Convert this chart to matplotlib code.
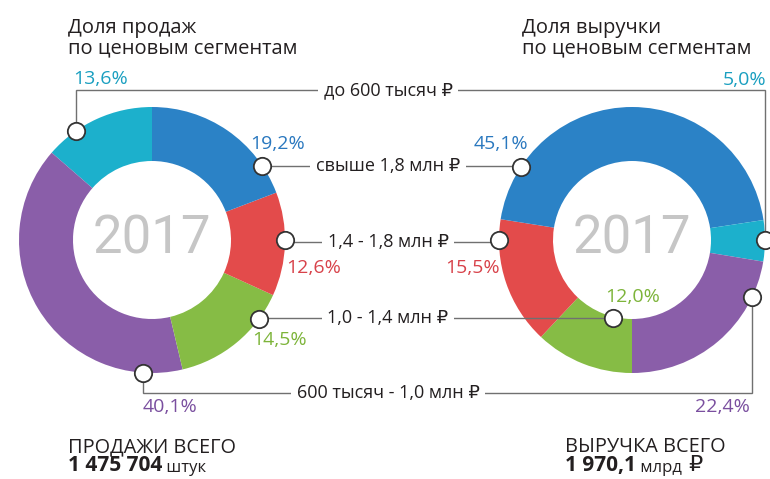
import numpy as np
import matplotlib
matplotlib.use("Agg")
import matplotlib.pyplot as plt

plt.rcParams['font.family'] = ['Open Sans', 'DejaVu Sans']

# price segments (order used for the rows in the middle)
segments = ["до 600 тысяч ₽", "600 тысяч - 1,0 млн ₽", "1,0 - 1,4 млн ₽",
            "1,4 - 1,8 млн ₽", "свыше 1,8 млн ₽"]
sales_share = [13.6, 40.1, 14.5, 12.6, 19.2]
revenue_share = [5.0, 22.4, 12.0, 15.5, 45.1]
sales_labels = ["13,6%", "40,1%", "14,5%", "12,6%", "19,2%"]
revenue_labels = ["5,0%", "22,4%", "12,0%", "15,5%", "45,1%"]
year = "2017"
sales_total = "1 475 704"
revenue_total = "1 970,1"

COLORS = ["#1cb0cc", "#8a5ea9", "#86bc45", "#e34b4b", "#2b82c6"]
TXT_COLORS = ["#1a9fc0", "#7a4f9f", "#7db43a", "#d8424a", "#2a78bf"]
DARK = "#231f20"

W, H = 770, 479
def Y(y):  # picture rows measured from the top
    return H - y

fig = plt.figure(figsize=(W / 100, H / 100), dpi=100)
ax = fig.add_axes([0, 0, 1, 1])

R, RING = 133, 54
CL = (152, Y(240))
CR = (632, Y(240))

# left: counter-clockwise from 12 o'clock; right: clockwise from 6 o'clock
ax.pie(sales_share, colors=COLORS, startangle=90, counterclock=True,
       radius=R, center=CL, wedgeprops=dict(width=RING, edgecolor="none"))
r_order = [2, 3, 4, 0, 1]
ax.pie([revenue_share[i] for i in r_order], colors=[COLORS[i] for i in r_order],
       startangle=-90, counterclock=False, radius=R, center=CR,
       wedgeprops=dict(width=RING, edgecolor="none"))

for c in (CL, CR):
    ax.text(c[0], c[1] + 1, year, ha="center", va="center", fontsize=38,
            color="#c6c6c6", family=["Roboto", "DejaVu Sans"])

# annotation anchors: (angle deg, radius) on each ring; row heights
ROW_Y = [90, 393, 318, 242, 166]
L_ANCH = [(125, R), (266, R), (-36.6, R), (0, R), (34, R)]
R_ANCH = [(0, R), (-25.4, R), (256, R - RING + 1), (180, R), (146.5, R)]

def pt(c, a, r):
    return c[0] + r * np.cos(np.radians(a)), c[1] + r * np.sin(np.radians(a))

for i, seg in enumerate(segments):
    row = Y(ROW_Y[i])
    xl, yl = pt(CL, *L_ANCH[i])
    xr, yr = pt(CR, *R_ANCH[i])
    ax.plot([xl, xl, xr, xr], [yl, row, row, yr], color="#707070", lw=1.0,
            zorder=3, solid_joinstyle="miter")
    ax.plot([xl, xr], [yl, yr], "o", ms=12.5, mfc="white", mec="#333333",
            mew=1.3, zorder=5, linestyle="none")
    ax.text(388, row, seg, ha="center", va="center", fontsize=13, color=DARK,
            zorder=4, bbox=dict(fc="white", ec="none", pad=4))

# percentage labels (x, y, ha)
L_POS = [(73, 79, "left"), (143, 407, "left"), (252, 340, "left"),
         (286, 268, "left"), (250, 144, "left")]
R_POS = [(766, 80, "right"), (750, 407, "right"), (605, 297, "left"),
         (500, 268, "right"), (528, 144, "right")]
for i in range(len(segments)):
    for pos, lab in ((L_POS[i], sales_labels[i]), (R_POS[i], revenue_labels[i])):
        ax.text(pos[0], Y(pos[1]), lab, ha=pos[2], va="center", fontsize=14,
                color=TXT_COLORS[i])

# titles
ax.text(68, Y(33), "Доля продаж", fontsize=14.5, color=DARK, va="baseline")
ax.text(68, Y(53), "по ценовым сегментам", fontsize=14.5, color=DARK, va="baseline")
ax.text(522, Y(33), "Доля выручки", fontsize=14.5, color=DARK, va="baseline")
ax.text(522, Y(53), "по ценовым сегментам", fontsize=14.5, color=DARK, va="baseline")

# totals
ax.text(68, Y(452), "ПРОДАЖИ ВСЕГО", fontsize=14.3, color=DARK, va="baseline")
t = ax.text(68, Y(471), sales_total, fontsize=15, fontweight="bold",
            color=DARK, va="baseline")
ax.annotate(" штук", xycoords=t, xy=(1, 0), va="bottom", fontsize=12,
            color=DARK)
ax.text(565, Y(452), "ВЫРУЧКА ВСЕГО", fontsize=14.3, color=DARK, va="baseline")
t = ax.text(565, Y(471), revenue_total, fontsize=15, fontweight="bold",
            color=DARK, va="baseline")
m = ax.annotate(" млрд", xycoords=t, xy=(1, 0), va="bottom", fontsize=12,
                color=DARK)
ax.annotate("₽", xycoords=m, xy=(1, 0), xytext=(6, 0),
            textcoords="offset pixels", va="bottom", fontsize=16, color=DARK)

ax.set_xlim(0, W)
ax.set_ylim(0, H)
ax.set_aspect("equal")
ax.axis("off")
fig.savefig("out.png", dpi=100, facecolor="white")
